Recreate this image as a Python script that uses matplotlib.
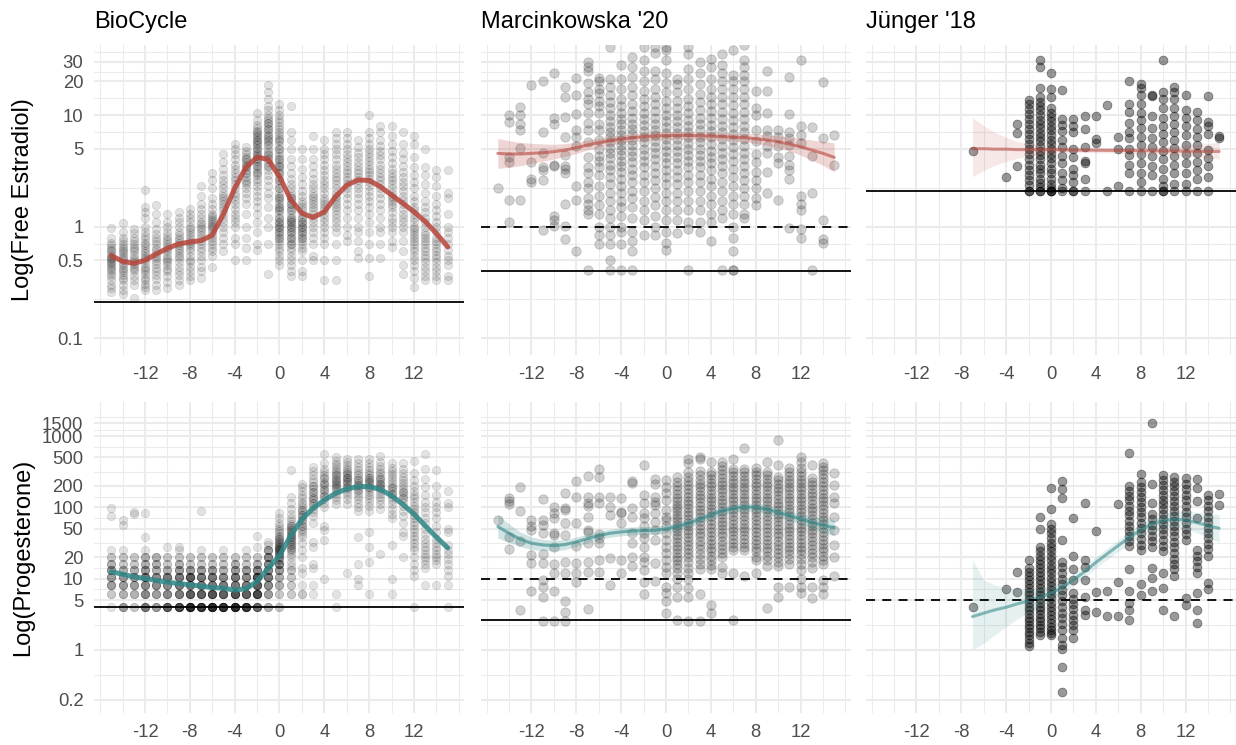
import matplotlib.pyplot as plt
import numpy as np
from matplotlib.ticker import FixedLocator, NullFormatter

plt.rcParams['font.family'] = ['Liberation Sans', 'DejaVu Sans']

days = list(range(-15, 16))
jun_days = list(range(-7, 16))

titles = ["BioCycle", "Marcinkowska '20", "Jünger '18"]
row_labels = ["Log(Free Estradiol)", "Log(Progesterone)"]

# ---------- free estradiol, one list per cycle day (-15 .. 15) ----------
bio_e2 = [
    [0.26, 0.28, 0.3, 0.33, 0.36, 0.38, 0.4, 0.42, 0.44, 0.45, 0.47, 0.48, 0.5, 0.52, 0.53, 0.55, 0.57, 0.6, 0.62, 0.65, 0.68, 0.72, 0.8, 0.98],
    [0.25, 0.27, 0.3, 0.33, 0.35, 0.37, 0.39, 0.41, 0.43, 0.45, 0.47, 0.5, 0.52, 0.55, 0.58, 0.6, 0.63, 0.66, 0.7, 0.74, 0.8, 0.9, 1.08],
    [0.23, 0.3, 0.33, 0.36, 0.4, 0.42, 0.44, 0.46, 0.48, 0.5, 0.53, 0.56, 0.6, 0.63, 0.66, 0.7, 0.75, 0.8, 0.88, 0.95],
    [0.27, 0.29, 0.31, 0.33, 0.35, 0.38, 0.4, 0.42, 0.44, 0.47, 0.5, 0.52, 0.55, 0.58, 0.6, 0.64, 0.68, 0.72, 0.77, 0.82, 0.9, 1.0, 1.2, 1.35, 1.5, 2.15],
    [0.27, 0.3, 0.34, 0.37, 0.4, 0.43, 0.46, 0.49, 0.52, 0.55, 0.58, 0.62, 0.65, 0.7, 0.74, 0.8, 0.86, 0.95, 1.1, 1.3, 1.55],
    [0.28, 0.32, 0.36, 0.4, 0.42, 0.45, 0.48, 0.5, 0.53, 0.56, 0.6, 0.63, 0.66, 0.7, 0.74, 0.78, 0.83, 0.9, 1.0, 1.1, 1.3],
    [0.3, 0.33, 0.37, 0.4, 0.44, 0.48, 0.52, 0.55, 0.58, 0.62, 0.65, 0.68, 0.72, 0.76, 0.8, 0.85, 0.9, 1.0, 1.1, 1.2, 1.35],
    [0.33, 0.36, 0.4, 0.44, 0.48, 0.5, 0.55, 0.6, 0.64, 0.68, 0.72, 0.75, 0.8, 0.85, 0.9, 0.95, 1.0, 1.1, 1.2, 1.3, 1.45],
    [0.35, 0.4, 0.44, 0.5, 0.55, 0.6, 0.65, 0.7, 0.75, 0.8, 0.85, 0.9, 0.95, 1.0, 1.05, 1.1, 1.2, 1.3, 1.45, 1.6, 1.9, 2.3],
    [0.44, 0.55, 0.6, 0.65, 0.7, 0.75, 0.8, 0.85, 0.9, 0.95, 1.0, 1.02, 1.05, 1.1, 1.15, 1.2, 1.25, 1.3, 1.45, 1.6, 1.8, 2.2, 2.6, 3.0],
    [0.6, 0.7, 0.8, 0.9, 1.0, 1.1, 1.2, 1.3, 1.4, 1.5, 1.6, 1.7, 1.8, 1.9, 2.0, 2.2, 2.4, 2.6, 2.9, 3.3, 3.8, 4.5],
    [0.5, 0.7, 0.8, 1.0, 1.1, 1.2, 1.3, 1.45, 1.6, 1.75, 1.9, 2.0, 2.2, 2.4, 2.6, 2.8, 3.0, 3.3, 3.6, 4.0, 4.5, 5.0, 5.5],
    [0.5, 0.65, 0.8, 1.0, 1.3, 1.6, 1.8, 2.0, 2.2, 2.4, 2.6, 2.8, 3.0, 3.2, 3.4, 3.6, 3.8, 4.0, 4.2, 4.5, 4.8, 5.2, 2.5, 3.0, 3.5, 4.0],
    [0.62, 0.7, 0.9, 1.1, 1.3, 1.5, 1.7, 1.9, 2.1, 2.3, 2.5, 2.7, 2.9, 3.1, 3.3, 3.5, 3.7, 3.9, 4.1, 4.3, 4.5, 4.8, 5.1, 5.4, 5.7, 6.0, 6.4, 6.8, 7.2, 7.7, 8.2, 9.0, 10.5,
     3.0, 3.5, 4.0, 4.5, 5.0, 5.5, 6.0, 6.5, 7.0],
    [0.38, 0.7, 1.0, 1.2, 1.5, 1.8, 2.0, 2.3, 2.6, 2.9, 3.2, 3.5, 3.8, 4.1, 4.4, 4.7, 5.0, 5.4, 5.8, 6.2, 6.6, 7.0, 7.5, 8.0, 8.5, 9.0, 9.5, 10.0, 11, 12, 14, 16, 18.5,
     3.5, 4.5, 5.5, 6.5, 7.5, 8.5, 4.0, 6.0],
    [0.45, 0.5, 0.55, 0.6, 0.65, 0.7, 0.75, 0.8, 0.85, 0.9, 0.95, 1.0, 1.05, 1.1, 1.2, 1.3, 1.4, 1.5, 1.6, 1.7, 1.8, 1.9, 2.0, 2.2, 2.4, 2.6, 2.8, 3.0, 3.2, 3.4, 3.6, 3.8, 4.0, 4.3, 4.6, 5.0, 5.4, 5.8, 6.2, 6.6, 7.0, 7.5, 8.0, 8.6, 9.2, 10, 11, 12.5,
     0.8, 1.0, 1.2, 1.5, 1.8, 2.2, 2.6, 3.0, 3.5, 4.0, 5.0, 6.0, 0.9, 1.1, 1.4],
    [0.36, 0.4, 0.45, 0.5, 0.55, 0.6, 0.65, 0.7, 0.75, 0.8, 0.85, 0.9, 0.95, 1.0, 1.05, 1.1, 1.15, 1.2, 1.3, 1.4, 1.5, 1.6, 1.7, 1.8, 1.9, 2.0, 2.2, 2.4, 2.7, 3.0, 3.5, 4.0, 5.0, 6.0, 7.0, 12,
     0.7, 0.8, 0.9, 1.0, 1.1, 1.2, 1.4, 1.6, 1.8],
    [0.36, 0.4, 0.5, 0.6, 0.65, 0.7, 0.75, 0.8, 0.85, 0.9, 0.95, 1.0, 1.05, 1.1, 1.2, 1.3, 1.4, 1.5, 1.6, 1.7, 1.9, 2.1, 2.4, 2.8, 3.3, 4.0, 5.0, 0.8, 0.9, 1.0, 1.1, 1.2],
    [0.5, 0.55, 0.7, 0.8, 0.9, 1.0, 1.1, 1.2, 1.3, 1.4, 1.5, 1.6, 1.7, 1.8, 1.9, 2.0, 2.2, 2.4, 2.7, 3.0, 3.5, 4.0, 5.0, 6.5],
    [0.33, 0.5, 0.7, 0.8, 0.9, 1.0, 1.1, 1.2, 1.3, 1.4, 1.5, 1.6, 1.7, 1.8, 2.0, 2.2, 2.4, 2.6, 2.9, 3.2, 3.6, 4.0, 4.5, 5.0, 6.0],
    [0.33, 0.5, 0.7, 0.9, 1.0, 1.1, 1.2, 1.3, 1.4, 1.5, 1.6, 1.7, 1.8, 1.9, 2.0, 2.2, 2.4, 2.6, 2.8, 3.0, 3.3, 3.6, 4.0, 4.5, 5.0, 5.5, 6.2, 7.0],
    [0.75, 0.85, 1.0, 1.2, 1.4, 1.6, 1.8, 2.0, 2.2, 2.4, 2.6, 2.8, 3.0, 3.2, 3.5, 3.8, 4.1, 4.5, 5.0, 5.5, 6.2, 7.0],
    [0.52, 0.6, 0.75, 0.9, 1.0, 1.2, 1.4, 1.6, 1.8, 2.0, 2.2, 2.4, 2.6, 2.8, 3.0, 3.2, 3.5, 3.8, 4.2, 4.6, 5.2, 6.0],
    [0.36, 0.52, 0.7, 0.9, 1.1, 1.3, 1.5, 1.7, 1.9, 2.1, 2.3, 2.5, 2.7, 2.9, 3.1, 3.3, 3.6, 3.9, 4.2, 4.6, 5.0, 5.5, 6.2, 7.0, 10],
    [0.52, 0.7, 0.9, 1.0, 1.2, 1.4, 1.6, 1.8, 2.0, 2.2, 2.4, 2.6, 2.8, 3.0, 3.3, 3.6, 4.0, 4.4, 4.8, 5.3, 6.0, 7.0, 8.0],
    [0.66, 0.75, 0.9, 1.0, 1.1, 1.2, 1.35, 1.5, 1.6, 1.7, 1.8, 1.9, 2.0, 2.2, 2.4, 2.6, 2.8, 3.0, 3.3, 3.7, 4.2, 4.8, 5.5, 6.5, 8.0],
    [0.38, 0.45, 0.6, 0.75, 0.9, 1.0, 1.1, 1.2, 1.3, 1.45, 1.6, 1.75, 1.9, 2.1, 2.3, 2.5, 2.8, 3.1, 3.5, 4.0, 4.6, 5.5, 7.0],
    [0.29, 0.35, 0.4, 0.45, 0.5, 0.55, 0.6, 0.65, 0.7, 0.75, 0.8, 0.85, 0.9, 0.95, 1.0, 1.1, 1.2, 1.3, 1.4, 1.5, 1.7, 1.9, 2.2, 2.5, 2.9, 3.4, 4.2, 5.5, 6.5],
    [0.33, 0.36, 0.4, 0.44, 0.48, 0.52, 0.56, 0.6, 0.65, 0.7, 0.75, 0.8, 0.85, 0.9, 1.0, 1.1, 1.2, 1.35, 1.5, 1.7, 2.0, 2.4, 2.9, 3.4, 5.0],
    [0.33, 0.36, 0.4, 0.44, 0.48, 0.52, 0.56, 0.6, 0.65, 0.7, 0.75, 0.8, 0.9, 1.0, 1.1, 1.25, 1.4, 1.6, 1.9, 2.3, 2.8, 3.2],
    [0.33, 0.36, 0.45, 0.5, 0.55, 0.62, 0.7, 0.8, 0.9, 1.0, 1.3, 1.8, 2.0, 3.2],
]
bio_e2_fit = [0.55, 0.49, 0.47, 0.5, 0.57, 0.64, 0.7, 0.73, 0.75, 0.84, 1.3, 2.2, 3.4, 4.2, 4.0, 2.8,
              1.75, 1.32, 1.21, 1.36, 1.86, 2.36, 2.62, 2.6, 2.28, 1.92, 1.62, 1.36, 1.11, 0.87, 0.66]

mar_e2 = [
    [2.2],
    [10, 8.6, 4.2, 3.8, 1.75, 1.1],
    [11.8, 10, 8.3, 7.3, 5.1, 1.75],
    [18.6, 3.8, 2.7, 2.5],
    [20.3, 7.0, 4.6, 3.4, 3.2, 2.6, 0.93],
    [23.6, 9.5, 8.3, 3.6, 3.5, 1.24, 1.16, 1.02],
    [18.0, 14.5, 9.7, 6.4, 4.4, 3.5, 3.3, 3.0, 1.6, 1.02, 0.77],
    [21.3, 15.0, 10.3, 7.3, 6.4, 5.3, 2.3, 1.75, 0.6],
    [30, 27, 25, 19.5, 16, 14, 12.5, 10.5, 8.5, 7.3, 5.7, 4.2, 3.4, 3.0, 2.5, 2.2, 1.8, 1.6, 1.4, 1.3, 0.41],
    [21.5, 20, 17, 15.6, 13.5, 12, 10.5, 8.3, 7.3, 6.0, 5.0, 4.3, 3.9, 3.4, 2.9, 2.3, 1.9, 1.55, 1.3, 1.0, 0.85, 0.7],
    [41, 21, 18, 15, 13, 11.5, 10, 8.8, 7.8, 7, 6.3, 5.7, 5.1, 4.6, 4.1, 3.6, 3.2, 2.8, 2.4, 2.0, 1.7, 1.4, 1.2, 1.0, 0.85, 0.7, 0.5, 0.41],
    [28, 21, 17, 14, 12, 10.5, 9.3, 8.3, 7.4, 6.6, 6.0, 5.4, 4.9, 4.4, 3.9, 3.5, 3.1, 2.7, 2.3, 2.0, 1.7, 1.5, 1.25, 1.0, 0.9, 0.7, 0.41],
    [33, 27, 22, 18, 15, 12.5, 10.8, 9.5, 8.4, 7.5, 6.7, 6.0, 5.4, 4.8, 4.3, 3.8, 3.3, 2.9, 2.5, 2.1, 1.8, 1.5, 1.2, 0.9, 0.75, 0.6, 0.41],
    [41, 31, 25, 20, 16.5, 14, 12, 10.5, 9.2, 8.1, 7.2, 6.4, 5.7, 5.0, 4.4, 3.9, 3.4, 2.9, 2.5, 2.1, 1.7, 1.4, 1.15, 0.85],
    [41, 36, 25, 21, 17, 14.5, 12.5, 10.8, 9.4, 8.3, 7.4, 6.6, 5.9, 5.2, 4.6, 4.0, 3.5, 3.0, 2.6, 2.2, 1.85, 1.55, 1.25, 1.0, 0.85],
    [41, 38, 31, 24, 19.5, 16, 13.5, 11.5, 10, 8.8, 7.8, 6.9, 6.1, 5.4, 4.8, 4.2, 3.7, 3.2, 2.8, 2.4, 2.0, 1.7, 1.4, 1.15, 0.9, 0.72, 0.62],
    [21, 19, 16, 13.5, 11.5, 10, 8.8, 7.8, 6.9, 6.1, 5.4, 4.8, 4.2, 3.7, 3.2, 2.8, 2.4, 2.0, 1.7, 1.4, 1.15, 0.87],
    [41, 35, 26, 21, 17, 14, 12, 10.4, 9.1, 8.0, 7.1, 6.3, 5.6, 5.0, 4.4, 3.9, 3.4, 2.9, 2.5, 2.1, 1.7, 1.4, 1.1, 0.95, 0.41],
    [30, 24, 19, 15.5, 13, 11, 9.5, 8.3, 7.3, 6.4, 5.7, 5.0, 4.4, 3.9, 3.4, 2.9, 2.5, 2.1, 1.7, 1.4, 1.1, 0.9],
    [32, 27, 21, 17, 14.5, 12.5, 10.8, 9.4, 8.2, 7.2, 6.3, 5.5, 4.8, 4.2, 3.7, 3.2, 2.7, 2.3, 1.9, 1.6, 1.3, 1.1, 0.75],
    [35, 28, 24, 20, 17, 14.5, 12.5, 10.7, 9.2, 8.0, 7.0, 6.1, 5.3, 4.6, 4.0, 3.5, 3.0, 2.5, 2.1, 1.7, 1.4, 1.2, 0.41],
    [38, 23, 20, 17, 14.5, 12.3, 10.5, 9.0, 7.8, 6.8, 6.0, 5.2, 4.5, 3.9, 3.3, 2.8, 2.3, 1.9, 1.6, 1.3, 1.0, 0.8, 0.6, 0.41, 0.41],
    [42, 31, 27, 23, 20, 17, 14.5, 12.5, 10.7, 9.2, 8.0, 7.0, 6.1, 5.3, 4.6, 4.0, 3.5, 3.0, 2.6, 2.2, 1.9, 1.6, 1.3, 1.2],
    [16.5, 11.5, 10, 7.3, 5.8, 4.5, 3.8, 3.1, 2.6, 2.2, 1.8, 1.55],
    [25, 16.5, 10.5, 7.3, 6.5, 5.3, 4.6, 3.1, 2.0],
    [7.3, 6.3, 5.3, 4.2, 3.7, 1.75],
    [22, 10.2, 7.0, 6.2, 5.4, 4.3, 3.6, 3.2, 2.7, 0.97],
    [31, 8.0, 6.6, 5.6, 1.9, 1.6, 1.4, 0.95, 0.8],
    [7.8, 4.3, 2.0, 0.41],
    [19.9, 6.2, 1.15, 0.78, 0.72],
    [6.6, 3.6],
]
mar_e2_fit = [4.54, 4.48, 4.48, 4.54, 4.6, 4.7, 4.86, 5.1, 5.39, 5.65, 5.89, 6.1, 6.27, 6.4, 6.49, 6.53,
              6.58, 6.58, 6.53, 6.49, 6.4, 6.35, 6.27, 6.14, 5.97, 5.77, 5.5, 5.2, 4.86, 4.54, 4.18]
mar_e2_hi = [6.18, 5.89, 5.69, 5.58, 5.51, 5.47, 5.55, 5.73, 5.97, 6.22, 6.44, 6.62, 6.81, 6.95, 7.05, 7.1,
             7.14, 7.14, 7.1, 7.05, 6.95, 6.9, 6.85, 6.76, 6.67, 6.53, 6.35, 6.18, 5.98, 5.81, 5.65]
mar_e2_lo = [3.33, 3.4, 3.52, 3.69, 3.85, 4.04, 4.27, 4.53, 4.85, 5.13, 5.38, 5.61, 5.77, 5.89, 5.97, 6.01,
             6.05, 6.05, 6.01, 5.97, 5.89, 5.85, 5.73, 5.57, 5.35, 5.09, 4.75, 4.38, 3.95, 3.55, 3.09]

jun_e2 = [
    [], [], [], [], [], [], [], [],
    [4.8], [], [], [2.8],
    [8.3, 6.9, 3.5],
    [13.6, 12.5, 11.3, 10.2, 9.2, 8.3, 7.5, 6.8, 6.1, 5.5, 5.0, 4.5, 4.0, 3.6, 3.2, 2.9, 2.6, 2.35, 2.1, 2.1],
    [31, 27, 17.5, 14.5, 13.2, 12, 11, 10, 9.1, 8.3, 7.6, 6.9, 6.3, 5.8, 5.3, 4.8, 4.4, 4.0, 3.6, 3.3, 3.0, 2.7, 2.45, 2.25, 2.1, 2.1],
    [24, 17.2, 14.6, 11.5, 10.5, 9.6, 8.8, 8.0, 7.3, 6.6, 6.0, 5.5, 5.0, 4.5, 4.1, 3.7, 3.3, 3.0, 2.7, 2.4, 2.2, 2.1, 2.1, 2.1],
    [16.8, 9.3, 8.2, 7.2, 6.0, 5.2, 4.3, 3.7, 3.0, 2.6, 2.2, 2.1],
    [9.3, 8.0, 7.0, 5.0, 4.2, 3.3, 2.9, 2.5, 2.1, 2.1],
    [9.8, 7.5, 5.2, 3.9, 3.7, 2.7, 2.1],
    [9.8, 6.1, 5.6],
    [12.2, 2.1],
    [6.4, 5.0, 2.3],
    [20, 12.5, 10.6, 8.5, 7.0, 6.2, 5.0, 4.4, 3.6, 3.0, 2.1],
    [19, 17.4, 15.2, 12.5, 10.5, 9.0, 7.6, 6.4, 5.4, 4.5, 3.7, 3.0, 2.5, 2.1],
    [15.2, 14.7, 9.9, 7.6, 6.2, 5.2, 4.3, 3.5, 2.9, 2.1],
    [31, 16.0, 13.8, 11.6, 9.5, 8.0, 6.8, 5.7, 4.8, 4.0, 3.3, 2.7, 2.3, 2.1, 2.1],
    [17.8, 16.0, 13.8, 11.6, 9.8, 8.3, 7.1, 6.0, 5.1, 4.3, 3.6, 3.0, 2.4, 2.1],
    [15.2, 11.2, 9.4, 7.9, 6.6, 5.4, 4.5, 3.7, 3.0, 2.4, 2.1],
    [10.7, 9.0, 7.5, 6.4, 5.4, 4.6, 3.8, 3.2, 2.7, 2.1],
    [14.7, 8.6, 8.0, 6.8, 4.9, 4.1, 3.5, 2.8, 2.1],
    [6.5, 6.2],
]
jun_e2_fit = [5.0, 5.0, 4.95, 4.95, 4.9, 4.9, 4.9, 4.9, 4.88, 4.86, 4.85, 4.84, 4.83, 4.82, 4.8, 4.8,
              4.78, 4.77, 4.76, 4.75, 4.74, 4.73, 4.72]
jun_e2_hi = [9.5, 8.0, 7.0, 6.3, 5.8, 5.5, 5.35, 5.25, 5.2, 5.15, 5.1, 5.1, 5.1, 5.1, 5.1, 5.15,
             5.2, 5.25, 5.3, 5.35, 5.45, 5.55, 5.7]
jun_e2_lo = [2.8, 3.2, 3.55, 3.85, 4.1, 4.3, 4.45, 4.55, 4.6, 4.62, 4.62, 4.6, 4.58, 4.55, 4.52, 4.48,
             4.44, 4.4, 4.35, 4.3, 4.22, 4.13, 4.03]

# ---------- progesterone ----------
bio_p4 = [
    [4] + [6]*2 + [8]*4 + [10.5]*4 + [13]*4 + [16]*3 + [20]*2 + [25, 97, 75],
    [4]*4 + [6]*3 + [8]*4 + [10.5]*4 + [13]*3 + [16]*2 + [20]*2 + [25, 66, 57],
    [4]*2 + [6]*3 + [8]*4 + [10.5]*4 + [13]*3 + [16]*2 + [20]*2 + [85, 80],
    [4]*6 + [6]*5 + [8]*5 + [10.5]*6 + [13]*4 + [16]*3 + [20]*3 + [25, 38, 82],
    [4]*4 + [6]*4 + [8]*5 + [10.5]*5 + [13]*3 + [16]*3 + [20]*3,
    [4]*8 + [6]*5 + [8]*5 + [10.5]*6 + [13]*3 + [16]*2 + [20]*2 + [28],
    [4]*10 + [6]*6 + [8]*6 + [10.5]*6 + [13]*4 + [16]*3 + [20]*2 + [25, 28],
    [4]*14 + [6]*8 + [8]*6 + [10.5]*8 + [13]*4 + [16]*2 + [20]*2,
    [4]*12 + [6]*8 + [8]*6 + [10.5]*6 + [13]*4 + [16]*2 + [20]*2 + [25, 88],
    [4]*14 + [6]*9 + [8]*6 + [10.5]*6 + [13]*4 + [16]*2 + [20]*2,
    [4]*13 + [6]*8 + [8]*6 + [10.5]*5 + [13]*3 + [16]*2 + [20]*2 + [25],
    [4]*14 + [6]*9 + [8]*6 + [10.5]*6 + [13]*4 + [16]*3 + [20]*2,
    [4]*12 + [6]*8 + [8]*6 + [10.5]*5 + [13]*4 + [16]*2 + [20]*2 + [25],
    [4]*7 + [6]*10 + [8]*8 + [10.5]*9 + [13]*5 + [16]*3 + [20]*2 + [28, 39],
    [4]*3 + [6]*4 + [8]*5 + [10.5]*6 + [13]*5 + [16]*5 + [20]*5 + [25]*4 + [30, 33],
    [4]*2 + [6]*2 + [8]*3 + [10.5]*3 + [13]*4 + [16]*5 + [18, 19, 20, 21, 22, 23, 24, 25, 26, 27, 28, 30, 32, 34, 36, 38, 40, 43, 46, 50, 55, 60, 70, 82, 20, 22, 24, 26, 28, 30, 33, 36],
    [6]*2 + [8]*2 + [10.5]*2 + [13]*2 + [15, 17, 20, 22, 24, 26, 28, 30, 32, 34, 36, 38, 40, 42, 45, 48, 51, 55, 59, 64, 70, 80, 95, 115, 140, 330, 26, 30, 34, 38, 42, 48, 55],
    [6]*2 + [8] + [12, 14, 20, 25, 32, 38, 42, 46, 50, 55, 60, 66, 72, 78, 85, 92, 100, 110, 120, 135, 150, 170, 195, 215, 55, 66, 78, 92],
    [6, 8, 14, 16, 28, 33, 60, 75, 85, 95, 105, 115, 125, 135, 150, 165, 180, 200, 225, 250, 280, 320, 370, 115, 135, 165, 200],
    [10, 35, 48, 55, 100, 115, 130, 145, 160, 175, 190, 210, 230, 255, 280, 310, 350, 420, 560, 145, 175, 210, 255],
    [4, 6, 110, 125, 140, 155, 170, 185, 200, 215, 230, 245, 260, 280, 300, 320, 345, 375, 410, 450, 500, 185, 215, 245, 280],
    [12, 110, 130, 150, 165, 180, 195, 210, 225, 240, 255, 270, 290, 310, 335, 360, 390, 430, 480, 195, 225, 255, 290],
    [8, 10, 16, 38, 90, 100, 115, 130, 145, 160, 175, 190, 205, 220, 240, 260, 280, 300, 330, 370, 420, 480, 175, 205, 240],
    [6, 17, 28, 45, 90, 105, 120, 135, 150, 165, 180, 195, 210, 225, 240, 260, 280, 300, 330, 370, 420, 480, 195, 225, 260],
    [22, 95, 110, 125, 140, 155, 170, 185, 200, 215, 230, 250, 270, 290, 310, 340, 380, 430, 520, 185, 215, 250],
    [6, 10, 30, 70, 80, 95, 110, 125, 140, 155, 170, 185, 200, 220, 240, 265, 290, 320, 360, 420, 155, 185],
    [20, 40, 45, 60, 75, 90, 105, 120, 135, 150, 165, 180, 200, 220, 240, 270, 300, 340, 420, 135, 165],
    [4, 11, 13, 16, 20, 25, 28, 32, 36, 40, 45, 50, 56, 62, 70, 78, 86, 95, 105, 120, 135, 150, 170, 200, 240, 300, 440],
    [8, 14, 16, 18, 20, 22, 25, 28, 32, 36, 42, 50, 60, 70, 85, 100, 120, 150, 190, 250, 350, 560],
    [8, 16, 18, 20, 22, 25, 28, 32, 36, 45, 55, 70, 85, 100, 120, 150, 200, 330],
    [4, 8, 11, 13, 16, 19, 22, 25, 30, 45, 50, 100, 115, 170],
]
bio_p4_fit = [12.5, 11.5, 10.6, 10, 9.4, 8.9, 8.5, 8.2, 7.8, 7.5, 7.3, 6.9, 7.2, 9.1, 14, 21,
              40, 68, 97, 126, 157, 181, 195, 195, 178, 145, 110, 80, 55, 38, 27]

mar_p4 = [
    [67],
    [134, 124, 111, 38.8, 26],
    [195, 90, 33.6, 3.6],
    [66, 54, 48, 21.5, 16.4, 6.8],
    [131, 66, 56.5, 43, 22, 16.4, 9.6, 7.7, 5.5, 2.5],
    [102, 82, 70, 43, 41, 28, 16, 12.1, 6.6, 2.5],
    [160, 97, 92, 60, 41, 17.3, 11.9, 4.8, 3.45, 2.5],
    [237, 141, 60, 29, 16.4, 11.9, 8.9],
    [275, 141, 114, 104, 74, 48, 45.5, 31.3, 17.3, 12.5, 3.7],
    [340, 269, 141, 114, 42, 36.7, 31.3, 18.3, 12.5],
    [141, 100, 78, 19.3, 8.1],
    [134, 87, 82, 60, 18.3, 11.9],
    [237, 222, 97, 74, 43, 31.3, 20.3, 15.2],
    [392, 148, 114, 82, 70, 54, 43, 37, 28, 20, 17.3, 13.2, 8.9, 6.1],
    [248, 211, 141, 120, 108, 82, 63, 48, 35, 16.4, 9.1],
    [242, 195, 157, 127, 92, 74, 66, 54, 43, 35, 28, 22.7, 18.3, 14.7, 11.9, 7.7, 6.2, 4.8, 3.3],
    [269, 230, 200, 175, 155, 137, 122, 109, 98, 88, 79, 71, 64, 57, 51, 46, 41, 37, 33, 29, 26, 23, 20, 18, 16, 14, 12, 10, 7.7, 5.6, 2.6],
    [476, 414, 310, 270, 235, 205, 180, 160, 140, 124, 110, 98, 87, 77, 69, 61, 54, 48, 43, 38, 34, 30, 26, 23, 20, 17, 14, 12, 10, 7.3, 5.5, 2.5],
    [513, 476, 320, 280, 245, 215, 190, 168, 150, 133, 118, 104, 92, 82, 72, 64, 56, 50, 44, 39, 34, 30, 26, 22, 19, 16, 13.5, 6.0, 2.5],
    [437, 316, 280, 250, 222, 197, 175, 155, 137, 122, 108, 96, 85, 75, 66, 58, 51, 45, 40, 35, 31, 27, 24, 21, 18, 15.5, 13.5, 4.3, 3.3],
    [437, 380, 335, 295, 260, 230, 205, 182, 162, 144, 128, 114, 101, 90, 80, 71, 63, 56, 50, 44, 39, 34, 30, 26, 23, 20, 14.7, 12],
    [476, 350, 310, 275, 245, 218, 194, 172, 153, 136, 121, 107, 95, 85, 75, 67, 59, 52, 46, 41, 36, 32, 28, 25, 12, 2.6],
    [671, 350, 310, 275, 245, 218, 194, 172, 153, 136, 121, 107, 95, 85, 75, 67, 59, 52, 46, 41, 36, 32, 28, 25, 11],
    [352, 315, 280, 250, 222, 197, 175, 155, 137, 122, 108, 96, 85, 75, 66, 58, 51, 45, 40, 35, 31, 27, 24, 20, 18, 12],
    [437, 316, 280, 250, 222, 197, 175, 155, 137, 122, 108, 96, 85, 75, 66, 58, 51, 45, 40, 35, 31, 27, 24, 21, 18, 15, 3.9],
    [879, 392, 270, 240, 212, 188, 167, 148, 131, 116, 103, 91, 81, 72, 64, 56, 50, 44, 39, 34, 30, 26, 23, 20, 17, 15, 7.7, 5.6],
    [352, 310, 275, 245, 218, 194, 172, 153, 136, 121, 107, 95, 85, 75, 67, 59, 52, 46, 41, 36, 32, 28, 25, 22, 19, 16, 7.7],
    [513, 437, 352, 310, 275, 245, 218, 194, 172, 153, 136, 121, 107, 95, 85, 75, 67, 59, 52, 46, 41, 36, 32, 28, 25, 22, 19, 16, 13, 10, 7.7, 6.2],
    [392, 260, 230, 204, 180, 160, 142, 126, 112, 99, 88, 78, 69, 61, 54, 48, 43, 38, 34, 30, 26, 23, 20, 17, 14, 7.7, 5.3],
    [414, 370, 330, 290, 255, 225, 200, 176, 155, 137, 121, 107, 95, 84, 74, 66, 58, 51, 45, 40, 35, 31, 27, 24, 21, 18, 16, 9.6, 7.7, 6.0],
    [300, 205, 141, 114, 74, 48, 29.6, 20.3, 10.7],
]
mar_p4_fit = [53.6, 43.2, 35.6, 31.3, 29.6, 29.0, 30.0, 32.7, 36.4, 40.1, 43.2, 45.1, 46.6, 47.1, 47.6, 49.7,
              53.6, 59.7, 67.9, 78.1, 88.9, 96.9, 101, 100, 93.7, 85.1, 76.4, 68.6, 61.6, 55.9, 51.9]
mar_p4_hi = [78.2, 58.4, 45.1, 38.4, 35.5, 34.5, 35.3, 38.0, 41.9, 45.6, 49.2, 51.3, 53.0, 53.6, 54.2, 56.6,
             61.0, 67.9, 77.3, 88.9, 101, 110, 115, 114, 107, 97.9, 88.9, 81.5, 74.8, 70.1, 67.9]
mar_p4_lo = [36.8, 32.0, 28.1, 25.5, 24.7, 24.4, 25.5, 28.1, 31.7, 35.2, 38.0, 39.6, 41.0, 41.4, 41.8, 43.7,
             47.1, 52.5, 59.7, 68.6, 78.1, 85.1, 88.8, 87.9, 82.3, 74.0, 65.7, 57.7, 50.7, 44.6, 39.6]

jun_p4 = [
    [], [], [], [], [], [], [], [],
    [3.96], [], [], [7.1],
    [12.3, 6.5],
    [18.3, 14, 12.3, 10.8, 9.5, 8.4, 7.4, 6.5, 5.8, 5.1, 4.5, 4.0, 3.6, 3.2, 2.8, 2.5, 2.2, 2.0, 1.8, 1.6, 1.4, 1.25, 1.15],
    [72, 49.5, 28, 24, 21, 18.5, 16, 14, 12.3, 10.8, 9.5, 8.4, 7.4, 6.5, 5.8, 5.1, 4.5, 4.0, 3.6, 3.2, 2.8, 2.5, 2.2, 2.0, 1.8, 1.6],
    [184, 94, 58, 50, 43, 37, 32, 28, 24, 21, 18, 15.5, 13.5, 11.8, 10.3, 9.0, 7.9, 6.9, 6.0, 5.3, 4.6, 4.0, 3.5, 3.1, 2.7, 2.4, 2.1, 1.9, 1.7, 1.6],
    [234, 178, 137, 34.8, 17.3, 14.5, 12, 10, 8.4, 7.0, 5.8, 4.8, 4.0, 3.3, 2.8, 2.3, 1.9, 1.45, 1.17, 1.03, 0.57, 0.26],
    [70, 20.8, 13.5, 9.6, 6.2, 5.2, 4.4, 3.7, 3.1, 2.6, 2.2, 1.9, 1.45],
    [116, 18.3, 14.7, 9.4, 5.6, 3.6, 3.1],
    [47, 6.4, 3.4],
    [6.8, 3.0],
    [111, 8.9, 3.0],
    [584, 200, 170, 145, 125, 105, 90, 77, 65, 55, 47, 40, 34, 29, 13.5, 6.8, 4.6, 3.6, 2.6],
    [290, 230, 195, 165, 140, 120, 100, 85, 72, 61, 51, 43, 36, 30, 25, 8.4, 5.9],
    [1507, 211, 114, 80, 68, 57, 48, 40, 34, 28, 14, 10.1, 6.8],
    [280, 240, 205, 175, 150, 128, 110, 94, 80, 68, 58, 49, 42, 35, 29, 24, 11.9, 7.3, 3.6],
    [269, 230, 196, 168, 143, 122, 104, 88, 75, 64, 54, 46, 39, 33, 28, 23, 19, 16, 13.5, 11, 3.0],
    [255, 215, 180, 150, 125, 104, 87, 72, 60, 50, 42, 35, 5.3, 4.3],
    [248, 184, 124, 70, 25, 21, 17.5, 14.5, 12, 6.3, 3.6, 2.4],
    [148, 125, 105, 88, 74, 62, 52, 44, 37, 31, 26, 21, 8.8, 7.1],
    [154, 106],
]
jun_p4_fit = [2.93, 3.27, 3.64, 3.96, 4.42, 4.86, 5.47, 6.23, 7.56, 9.58, 12.5, 16.8, 22.2, 29.0, 38.0, 48.1,
              58.4, 65.0, 67.9, 66.4, 60.9, 55.3, 50.8]
jun_p4_hi = [18.3, 9.58, 8.15, 7.4, 7.17, 7.1, 7.3, 7.9, 9.27, 11.6, 15.0, 20.1, 26.6, 34.8, 46.1, 59.0,
             72.4, 82.4, 87.9, 88.9, 85.1, 81.5, 79.8]
jun_p4_lo = [1.0, 1.24, 1.62, 2.12, 2.72, 3.34, 4.09, 4.92, 6.16, 7.89, 10.4, 14.0, 18.5, 24.2, 31.3, 39.2,
             47.1, 51.3, 52.5, 49.7, 43.7, 37.6, 32.3]

# reference lines: (value, dashed?)
e2_lines = [[(0.21, False)], [(1.0, True), (0.4, False)], [(2.1, False)]]
p4_lines = [[(4.0, False)], [(10.0, True), (2.6, False)], [(5.0, True)]]

e2_ticks = [0.1, 0.5, 1, 5, 10, 20, 30]
p4_ticks = [0.2, 1, 5, 10, 20, 50, 100, 200, 500, 1000, 1500]
x_ticks = [-12, -8, -4, 0, 4, 8, 12]
x_minor = [-16, -14, -10, -6, -2, 2, 6, 10, 14, 16]

RED = '#B7443A'
TEAL = '#2E8686'

W, H = 1236, 745
fig = plt.figure(figsize=(W / 100, H / 100), dpi=100)

col_left = [94.5, 481, 866]
row_top = [45, 402]
row_h = [310, 311]
panel_w = 370


def minor_breaks(t):
    t = np.log10(t)
    ext = np.concatenate([[t[0] - (t[1] - t[0])], t, [t[-1] + (t[-1] - t[-2])]])
    return 10 ** ((ext[:-1] + ext[1:]) / 2)


def setup(ax, ticks, ylim, show_y):
    ax.set_yscale('log')
    ax.set_xlim(-16.5, 16.5)
    ax.set_ylim(*ylim)
    ax.set_xticks(x_ticks)
    ax.set_xticklabels([str(t) for t in x_ticks])
    ax.xaxis.set_minor_locator(FixedLocator(x_minor))
    ax.set_yticks(ticks)
    ax.set_yticklabels([('%g' % t) for t in ticks])
    ax.yaxis.set_minor_locator(FixedLocator(minor_breaks(ticks)))
    ax.yaxis.set_minor_formatter(NullFormatter())
    ax.grid(which='major', color='#EBEBEB', lw=1.45, zorder=0)
    ax.grid(which='minor', color='#EBEBEB', lw=0.75, zorder=0)
    ax.set_axisbelow(True)
    for s in ax.spines.values():
        s.set_visible(False)
    ax.tick_params(which='both', length=0, labelsize=13.3, labelcolor='#4D4D4D', pad=8)
    ax.tick_params(axis='y', labelleft=show_y)


def draw(ax, vals, alpha, size, cx, fit, lo, hi, color, band_alpha, lw, line_alpha, lines):
    xs = [d for d, col in zip(days, vals) for v in col]
    ys = [v for col in vals for v in col]
    ax.scatter(xs, ys, s=size, color='black', alpha=alpha, linewidths=0.6, zorder=2)
    if lo is not None:
        ax.fill_between(cx, lo, hi, color=color, alpha=band_alpha, lw=0, zorder=3)
    ax.plot(cx, fit, color=color, lw=lw, alpha=line_alpha, zorder=4, solid_capstyle='round')
    for y, dashed in lines:
        ax.axhline(y, color='black', lw=1.3, ls=(0, (5, 4)) if dashed else '-', zorder=5)


panels_e2 = [
    (bio_e2, 0.115, 36, days, bio_e2_fit, None, None, 0, 3.6, 0.85),
    (mar_e2, 0.18, 46, days, mar_e2_fit, mar_e2_lo, mar_e2_hi, 0.22, 2.2, 0.6),
    (jun_e2, 0.4, 40, jun_days, jun_e2_fit, jun_e2_lo, jun_e2_hi, 0.12, 2.2, 0.55),
]
panels_p4 = [
    (bio_p4, 0.11, 36, days, bio_p4_fit, None, None, 0, 3.6, 0.85),
    (mar_p4, 0.18, 46, days, mar_p4_fit, mar_p4_lo, mar_p4_hi, 0.22, 2.2, 0.6),
    (jun_p4, 0.4, 40, jun_days, jun_p4_fit, jun_p4_lo, jun_p4_hi, 0.12, 2.2, 0.55),
]

for r, (panels, ticks, ylim, color, lines) in enumerate([
        (panels_e2, e2_ticks, (0.071, 42.4), RED, e2_lines),
        (panels_p4, p4_ticks, (0.13, 3000), TEAL, p4_lines)]):
    for c in range(3):
        l = col_left[c] / W
        b = 1 - (row_top[r] + row_h[r]) / H
        ax = fig.add_axes([l, b, panel_w / W, row_h[r] / H])
        setup(ax, ticks, ylim, c == 0)
        vals, a, s, cx, fit, lo, hi, ba, lw, la = panels[c]
        draw(ax, vals, a, s, cx, fit, lo, hi, color, ba, lw, la, lines[c])
        if r == 0:
            ax.set_title(titles[c], loc='left', fontsize=17, pad=12)

fig.text(23 / W, 1 - 200 / H, row_labels[0], rotation=90, ha='center', va='center', fontsize=17)
fig.text(23 / W, 1 - 557.5 / H, row_labels[1], rotation=90, ha='center', va='center', fontsize=17)

fig.savefig('out.png', dpi=100, facecolor='white')
